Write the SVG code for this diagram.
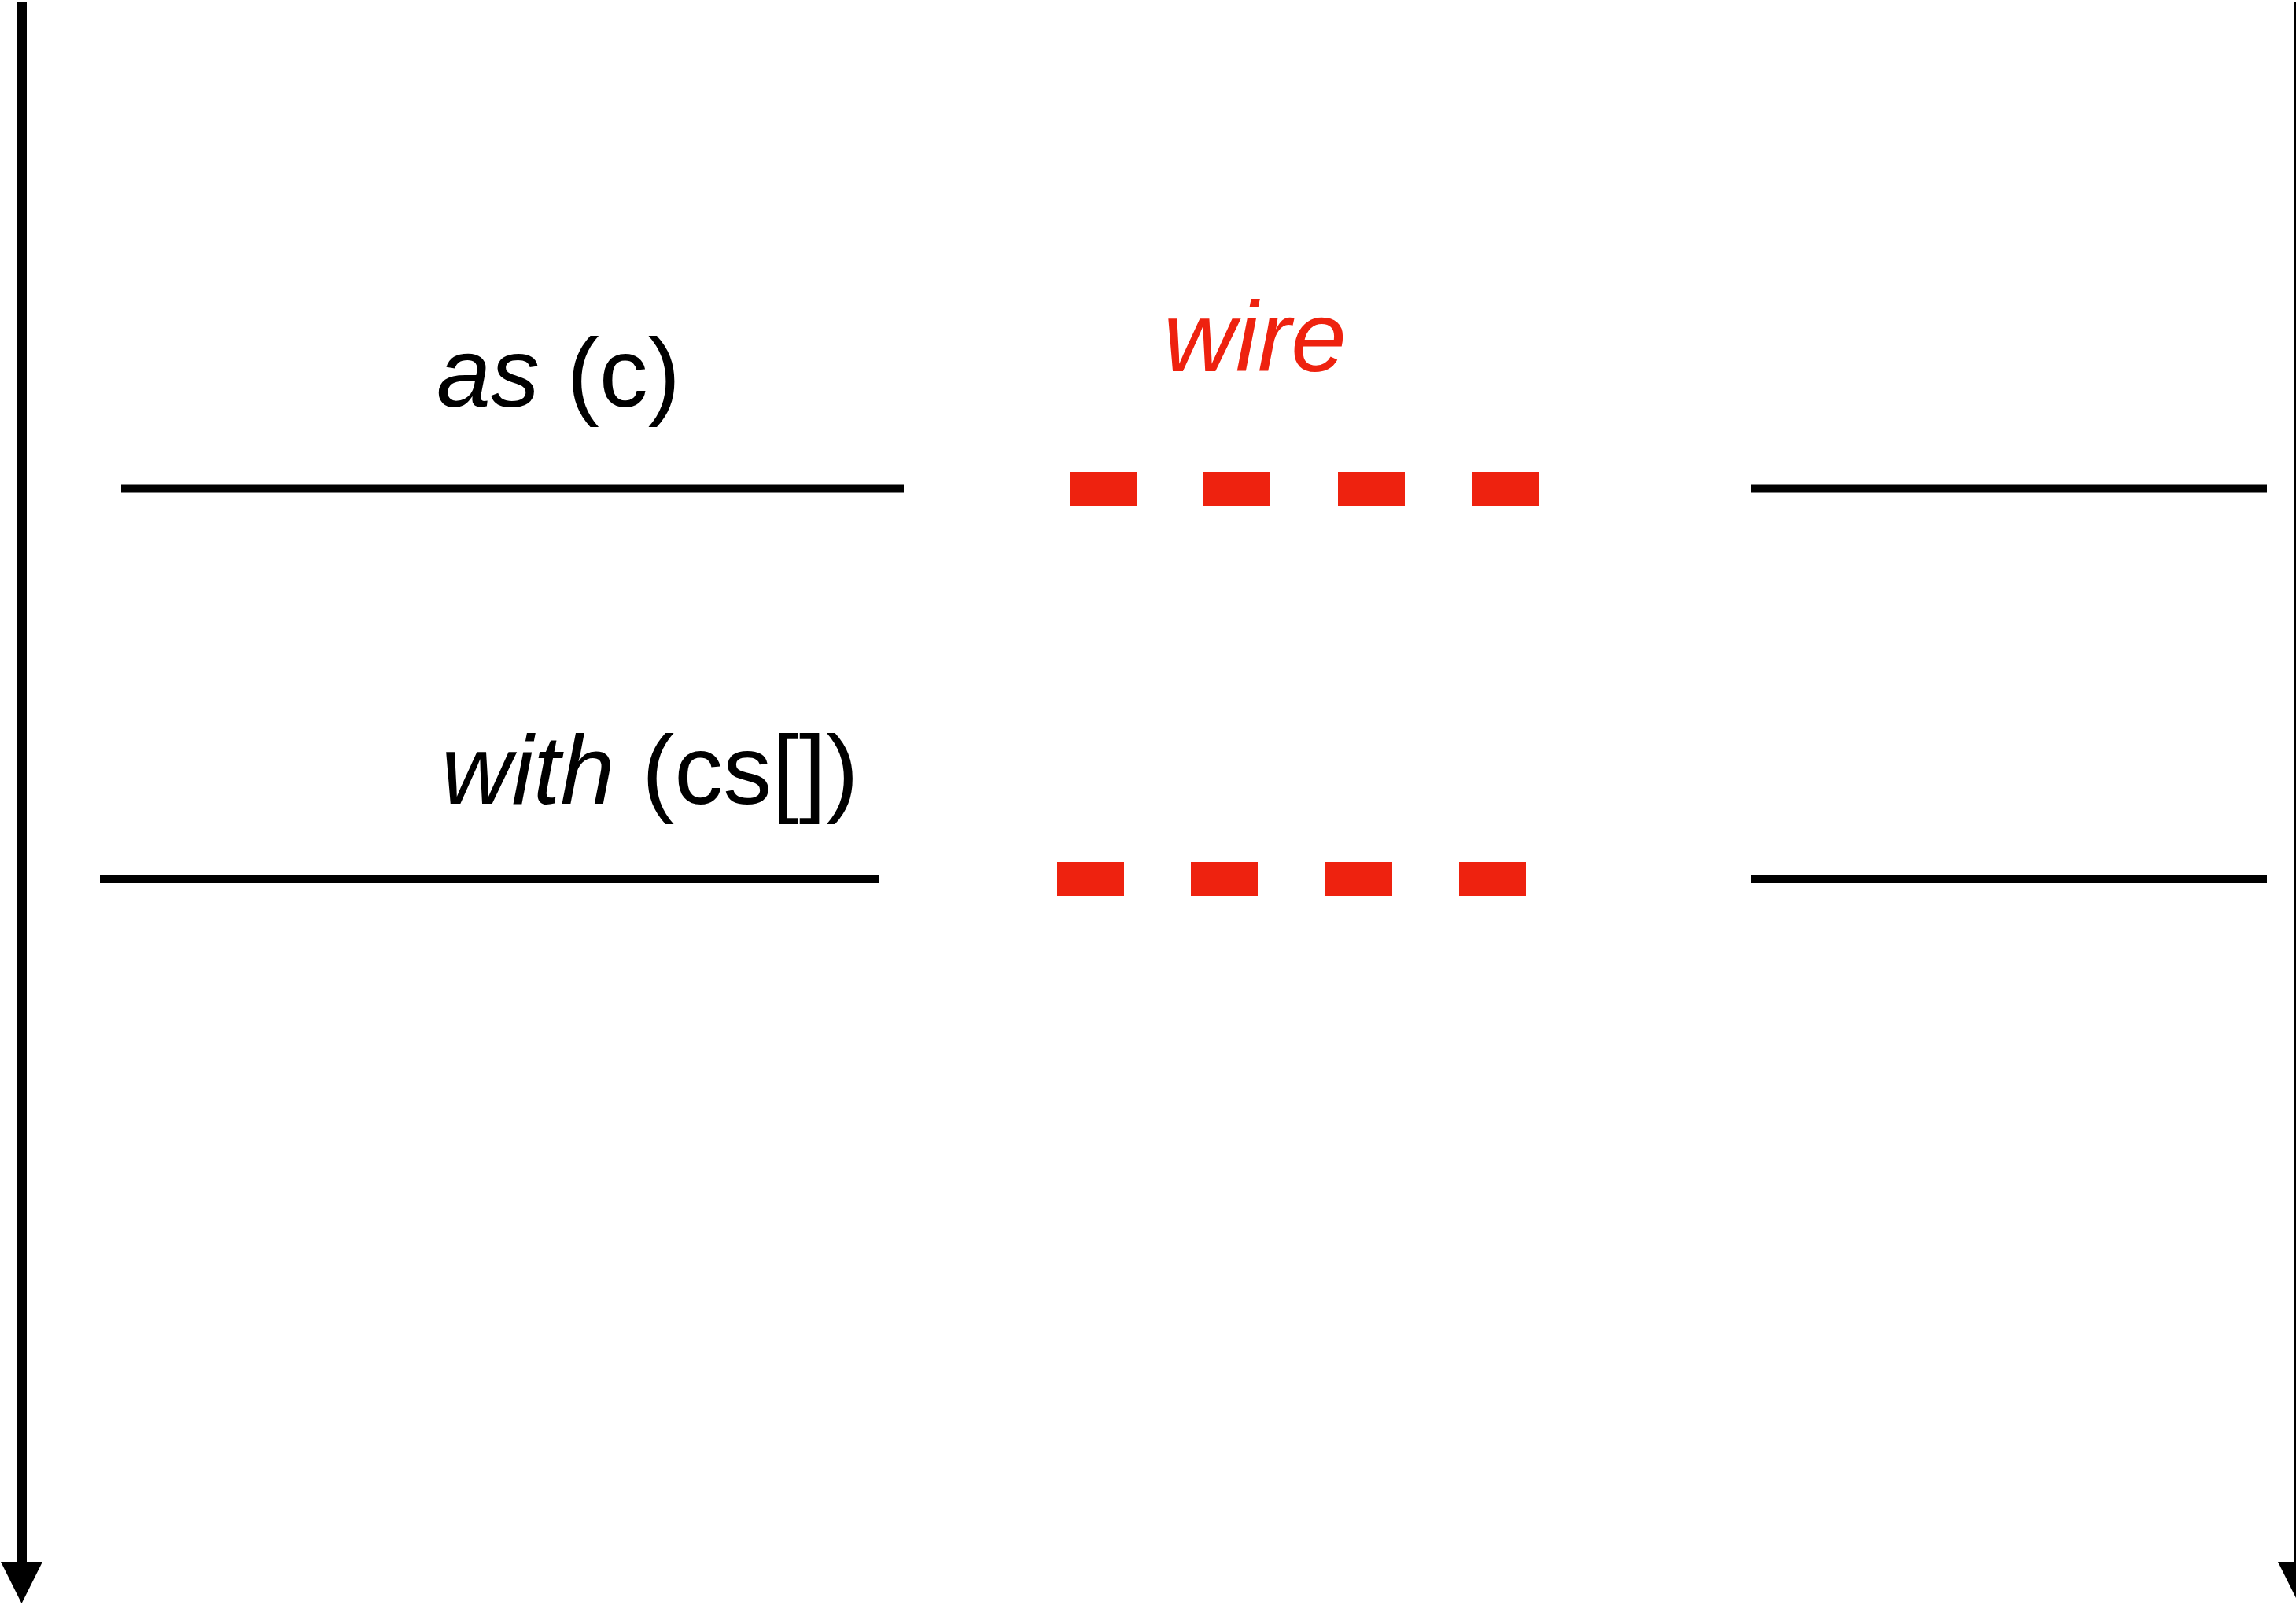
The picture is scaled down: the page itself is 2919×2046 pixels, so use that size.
<svg xmlns="http://www.w3.org/2000/svg" width="2919" height="2046" viewBox="0 0 2919 2046">
  <style>
    .lbl { font-family: "Liberation Sans", Arial, sans-serif; font-size: 124px; fill: #000; }
    .it { font-style: italic; }
    .red { fill: #EE220F; font-size: 127px; }
    .axis { stroke: #000; stroke-width: 13; fill: none; }
    .wire { stroke: #000; stroke-width: 10; fill: none; }
    .dash { fill: #EE220F; }
  </style>
  <defs>
    <marker id="arrow" viewBox="0 0 53 53" markerWidth="53" markerHeight="53" markerUnits="userSpaceOnUse" refX="0" refY="26.5" orient="auto">
      <path d="M0,0 L53,26.5 L0,53 Z" fill="#000"/>
    </marker>
  </defs>
  <rect width="2919" height="2046" fill="#fff"/>

  <g id="connectors">
    <line class="axis" x1="27.5" y1="3" x2="27.5" y2="1986" marker-end="url(#arrow)"/>
    <line class="axis" x1="2922.5" y1="3" x2="2922.5" y2="1986" marker-end="url(#arrow)"/>
    <line class="wire" x1="154" y1="621.5" x2="1149" y2="621.5"/>
    <line class="wire" x1="2226" y1="621.5" x2="2882" y2="621.5"/>
    <line class="wire" x1="127" y1="1118" x2="1117" y2="1118"/>
    <line class="wire" x1="2226" y1="1118" x2="2882" y2="1118"/>
  </g>

  <g id="dashes-as">
    <rect class="dash" x="1360" y="600" width="85" height="43"/>
    <rect class="dash" x="1530" y="600" width="85" height="43"/>
    <rect class="dash" x="1701" y="600" width="85" height="43"/>
    <rect class="dash" x="1871" y="600" width="85" height="43"/>
  </g>
  <g id="dashes-with">
    <rect class="dash" x="1344" y="1096" width="85" height="43"/>
    <rect class="dash" x="1514" y="1096" width="85" height="43"/>
    <rect class="dash" x="1685" y="1096" width="85" height="43"/>
    <rect class="dash" x="1855" y="1096" width="85" height="43"/>
  </g>

  <g id="label-as">
    <text class="lbl" x="555" y="517"><tspan class="it">as</tspan> (c)</text>
  </g>
  <g id="label-wire">
    <text class="lbl it red" x="1479" y="472">wire</text>
  </g>
  <g id="label-with">
    <text class="lbl" x="561" y="1022"><tspan class="it">with</tspan> (cs[])</text>
  </g>
</svg>
